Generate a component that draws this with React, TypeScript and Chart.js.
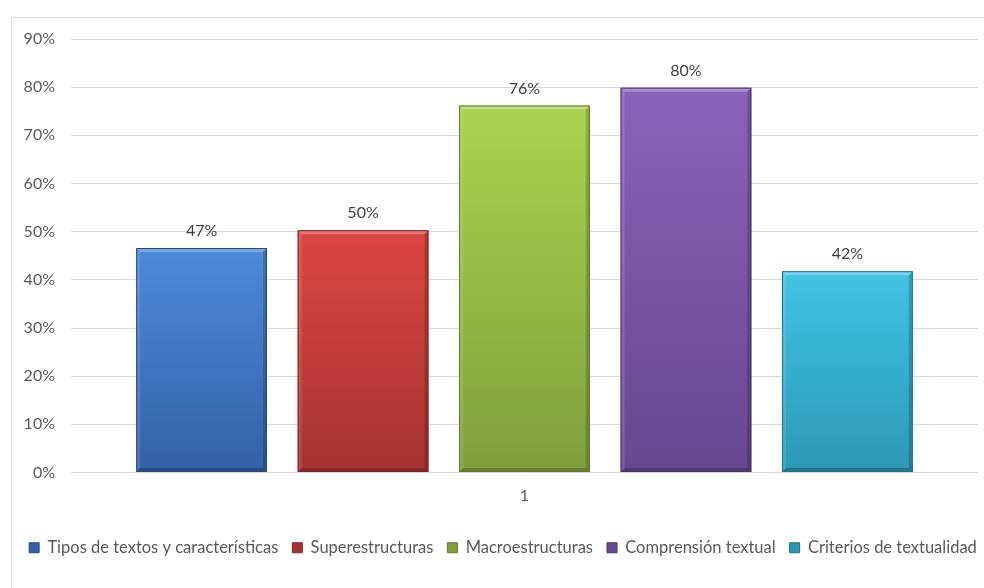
import React, { useEffect, useRef } from "react";
import { Chart, registerables } from "chart.js";

Chart.register(...registerables);

const categories = ["1"];
const seriesNames = [
  "Tipos de textos y características",
  "Superestructuras",
  "Macroestructuras",
  "Comprensión textual",
  "Criterios de textualidad",
];
const seriesValues = [0.466, 0.503, 0.762, 0.799, 0.418];
const yTicks = [0, 0.1, 0.2, 0.3, 0.4, 0.5, 0.6, 0.7, 0.8, 0.9];

// light / dark shades for each series (top of bar to bottom)
const lightColors = ["#4d8ad9", "#dc4642", "#a9d34e", "#8b62ba", "#40c4e4"];
const darkColors = ["#3461a6", "#a53331", "#7f9f3d", "#66488e", "#2b98b6"];
const edgeColors = ["#27497e", "#7d2524", "#5f7a2b", "#4b3469", "#1f7089"];

const FONT = "Lato, 'Open Sans', sans-serif";
const TEXT = "#595959";

const bevelPlugin = {
  id: "bevel",
  afterDatasetsDraw(chart: any) {
    const c = chart.ctx;
    chart.data.datasets.forEach((_: any, i: number) => {
      const meta = chart.getDatasetMeta(i);
      meta.data.forEach((bar: any) => {
        const { x, y, base, width } = bar.getProps(["x", "y", "base", "width"], true);
        const l = x - width / 2;
        const r = x + width / 2;
        const b = 4;
        c.save();
        // top highlight
        c.fillStyle = "rgba(255,255,255,0.28)";
        c.beginPath();
        c.moveTo(l, y);
        c.lineTo(r, y);
        c.lineTo(r - b, y + b);
        c.lineTo(l + b, y + b);
        c.closePath();
        c.fill();
        // left edge light
        c.fillStyle = "rgba(255,255,255,0.12)";
        c.beginPath();
        c.moveTo(l, y);
        c.lineTo(l + b, y + b);
        c.lineTo(l + b, base - b);
        c.lineTo(l, base);
        c.closePath();
        c.fill();
        // right edge dark
        c.fillStyle = "rgba(0,0,0,0.18)";
        c.beginPath();
        c.moveTo(r, y);
        c.lineTo(r - b, y + b);
        c.lineTo(r - b, base - b);
        c.lineTo(r, base);
        c.closePath();
        c.fill();
        // bottom edge dark
        c.fillStyle = "rgba(0,0,0,0.22)";
        c.beginPath();
        c.moveTo(l, base);
        c.lineTo(l + b, base - b);
        c.lineTo(r - b, base - b);
        c.lineTo(r, base);
        c.closePath();
        c.fill();
        // outline
        c.strokeStyle = edgeColors[i];
        c.lineWidth = 1;
        c.strokeRect(l + 0.5, y + 0.5, width - 1, base - y - 1);
        c.restore();
      });
    });
  },
};

const valueLabelPlugin = {
  id: "valueLabels",
  afterDatasetsDraw(chart: any) {
    const c = chart.ctx;
    c.save();
    c.font = `16px ${FONT}`;
    c.fillStyle = "#404040";
    c.textAlign = "center";
    c.textBaseline = "bottom";
    chart.data.datasets.forEach((ds: any, i: number) => {
      const meta = chart.getDatasetMeta(i);
      meta.data.forEach((bar: any, j: number) => {
        const v = ds.data[j];
        c.fillText(`${Math.round(v * 100)}%`, bar.x, bar.y - 9);
      });
    });
    c.restore();
  },
};

// nudge the legend row to the right so it sits centred under the framed area
const legendShiftPlugin = {
  id: "legendShift",
  afterLayout(chart: any) {
    const lg = chart.legend;
    if (!lg) return;
    lg.left += 14;
    lg.right += 14;
  },
};

export default function App() {
  const canvasRef = useRef<HTMLCanvasElement | null>(null);

  useEffect(() => {
    if (!canvasRef.current) return;
    const chart = new Chart(canvasRef.current, {
      type: "bar",
      data: {
        labels: categories,
        datasets: seriesNames.map((name, i) => ({
          label: name,
          data: [seriesValues[i]],
          borderWidth: 0,
          backgroundColor: (ctx: any) => {
            const ch = ctx.chart;
            const ys = ch.scales?.y;
            if (!ch.chartArea || !ys || ctx.raw == null) return lightColors[i];
            const top = ys.getPixelForValue(ctx.raw);
            const bottom = ys.getPixelForValue(0);
            const g = ch.ctx.createLinearGradient(0, top, 0, bottom);
            g.addColorStop(0, lightColors[i]);
            g.addColorStop(1, darkColors[i]);
            return g;
          },
        })),
      },
      options: {
        animation: false,
        responsive: false,
        maintainAspectRatio: false,
        layout: { padding: { top: 39, right: 6, bottom: 22, left: 0 } },
        datasets: {
          bar: { categoryPercentage: 0.89, barPercentage: 0.81 },
        },
        scales: {
          x: {
            grid: { display: false },
            border: { display: false },
            ticks: { color: TEXT, font: { family: FONT, size: 16 }, padding: 6 },
            afterFit: (s: any) => {
              s.height = 53;
            },
          },
          y: {
            min: 0,
            max: 0.9,
            afterBuildTicks: (s: any) => {
              s.ticks = yTicks.map((v) => ({ value: v }));
            },
            ticks: {
              color: TEXT,
              font: { family: FONT, size: 16 },
              padding: 16,
              callback: (v: any) => `${Math.round(Number(v) * 100)}%`,
            },
            grid: { color: "#d9d9d9", drawTicks: false },
            border: { display: false },
            afterFit: (s: any) => {
              s.width = 71;
            },
          },
        },
        plugins: {
          tooltip: { enabled: false },
          legend: {
            position: "bottom",
            labels: {
              color: TEXT,
              font: { family: FONT, size: 16.5 },
              boxWidth: 10,
              boxHeight: 10,
              padding: 14,
              generateLabels: (ch: any) =>
                ch.data.datasets.map((ds: any, i: number) => ({
                  text: ds.label,
                  fillStyle: darkColors[i],
                  strokeStyle: edgeColors[i],
                  lineWidth: 1,
                  fontColor: TEXT,
                  hidden: false,
                  datasetIndex: i,
                })),
            },
          },
        },
      },
      plugins: [bevelPlugin, valueLabelPlugin, legendShiftPlugin],
    });
    return () => chart.destroy();
  }, []);

  return (
    <div style={{ position: "absolute", left: 0, top: 0, width: 984, height: 588, background: "#fff", overflow: "hidden" }}>
      <div
        style={{
          position: "absolute",
          left: 11,
          top: 17,
          width: 990,
          height: 600,
          border: "1px solid #d9d9d9",
          boxSizing: "border-box",
        }}
      />
      <canvas ref={canvasRef} width={984} height={588} style={{ position: "absolute", left: 0, top: 0 }} />
    </div>
  );
}
